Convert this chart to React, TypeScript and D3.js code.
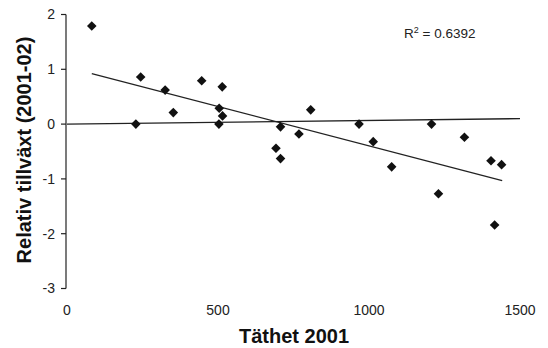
import React from "react";
import * as d3 from "d3";

const densityX = [82, 228, 244, 325, 352, 446, 503, 504, 514, 515, 692, 707, 707, 768, 807, 967, 1014, 1075, 1207, 1230, 1316, 1404, 1416, 1439];
const growthY = [1.79, 0, 0.86, 0.62, 0.21, 0.79, 0, 0.29, 0.68, 0.15, -0.44, -0.05, -0.63, -0.18, 0.26, 0, -0.32, -0.78, 0, -1.27, -0.24, -0.67, -1.84, -0.74];
const trendX = [82, 1441];
const trendY = [0.92, -1.03];
const refX = [0, 1500];
const refY = [0, 0.1];
const xTicks = [0, 500, 1000, 1500];
const yTicks = [2, 1, 0, -1, -2, -3];
const xTitle = "Täthet 2001";
const yTitle = "Relativ tillväxt (2001-02)";
const r2Label = "0.6392";

export default function App() {
  const W = 548, H = 348;
  const x = d3.scaleLinear().domain([0, 1500]).range([67, 520]);
  const y = d3.scaleLinear().domain([-3, 2]).range([288.5, 14.5]);
  const line = d3.line<[number, number]>().x(d => x(d[0])).y(d => y(d[1]));
  const trend = trendX.map((v, i) => [v, trendY[i]] as [number, number]);
  const ref = refX.map((v, i) => [v, refY[i]] as [number, number]);
  const diamond = d3.symbol().type(d3.symbolSquare).size(46)();
  const font = "'Liberation Sans', Arial, sans-serif";
  const axX = 66;
  return (
    <svg width={W} height={H} style={{ position: "absolute", left: 0, top: 0, background: "#fff" }} fontFamily={font}>
      <rect width={W} height={H} fill="#fff" />
      {/* y axis */}
      <line x1={axX} x2={axX} y1={y(2)} y2={y(-3)} stroke="#222" strokeWidth={1.2} />
      {yTicks.map(t => (
        <g key={t}>
          <line x1={axX - 5} x2={axX} y1={y(t)} y2={y(t)} stroke="#222" strokeWidth={1.2} />
          <text x={55} y={y(t)} dy="0.35em" textAnchor="end" fontSize={14} fill="#222">{t}</text>
        </g>
      ))}
      {xTicks.map(t => (
        <text key={t} x={x(t)} y={315} textAnchor="middle" fontSize={14} fill="#222">{t}</text>
      ))}
      <text x={294} y={343} textAnchor="middle" fontSize={20} fontWeight="bold" fill="#111">{xTitle}</text>
      <text transform={`translate(31,150) rotate(-90)`} textAnchor="middle" fontSize={20} fontWeight="bold" fill="#111">{yTitle}</text>
      <path d={line(ref) || ""} fill="none" stroke="#222" strokeWidth={1.3} />
      <path d={line(trend) || ""} fill="none" stroke="#222" strokeWidth={1.3} />
      {densityX.map((v, i) => (
        <path key={i} d={diamond} transform={`translate(${x(v)},${y(growthY[i])}) rotate(45)`} fill="#111" />
      ))}
      <text x={404} y={37.5} fontSize={13.5} fill="#222">
        R<tspan fontSize={9} dy={-5}>2</tspan><tspan dy={5}>{` = ${r2Label}`}</tspan>
      </text>
    </svg>
  );
}
